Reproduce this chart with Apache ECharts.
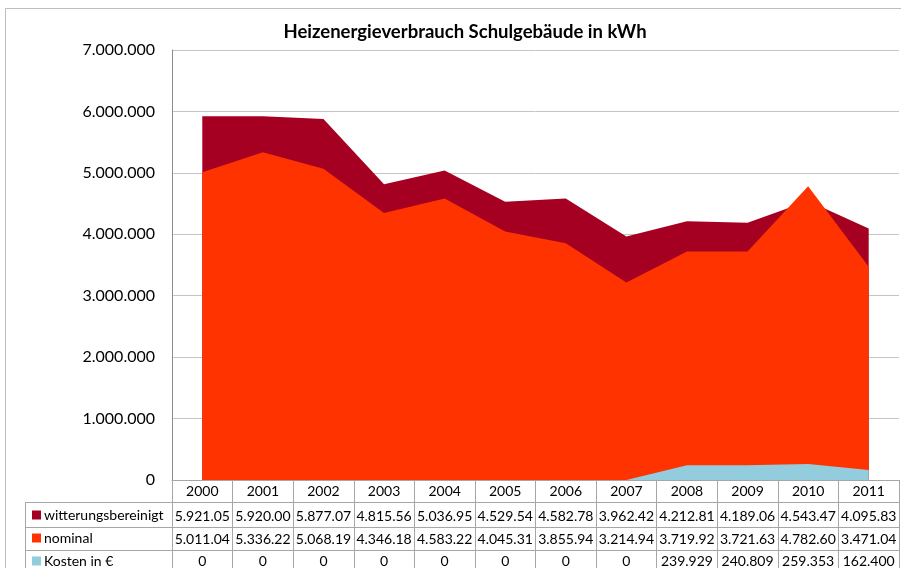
<!DOCTYPE html>
<html>
<head>
<meta charset="utf-8">
<script src="https://cdn.jsdelivr.net/npm/echarts@6/dist/echarts.min.js"></script>
<style>
  html, body { margin: 0; padding: 0; background: #fff; }
  #chart { width: 901px; height: 568px; }
</style>
</head>
<body>
<div id="chart"></div>
<script>
// Jahre (Kategorien)
var years = ['2000', '2001', '2002', '2003', '2004', '2005', '2006', '2007', '2008', '2009', '2010', '2011']
// witterungsbereinigt in kWh
var witterung = [5921050, 5920000, 5877070, 4815560, 5036950, 4529540, 4582780, 3962420, 4212810, 4189060, 4543470, 4095830]
// nominal in kWh
var nominal = [5011040, 5336220, 5068190, 4346180, 4583220, 4045310, 3855940, 3214940, 3719920, 3721630, 4782600, 3471040]
// Kosten in Euro
var kosten = [0, 0, 0, 0, 0, 0, 0, 0, 239929, 240809, 259353, 162400]

var names = ['witterungsbereinigt', 'nominal', 'Kosten in €']
var colors = ['#a50021', '#ff3300', '#93cddd']

var font = 'Lato'
var lineColor = '#a6a6a6'

// Tausenderpunkte
function dots (v) {
  return String(Math.round(v)).replace(/\B(?=(\d{3})+(?!\d))/g, '.')
}
// Excel schneidet zu lange Zellen ab
function cell (v) {
  var s = dots(v)
  return s.length > 8 ? s.slice(0, 8) : s
}

// eine Tabellenzeile als zusaetzliche x-Achse
function tableRow (offset, tickLen, margin, values) {
  return {
    type: 'category',
    data: years,
    position: 'bottom',
    offset: offset,
    boundaryGap: true,
    axisLine: { show: true, onZero: false, lineStyle: { color: lineColor, width: 1 } },
    axisTick: { show: true, alignWithLabel: false, interval: 0, length: tickLen, lineStyle: { color: lineColor, width: 1 } },
    splitLine: { show: false },
    axisLabel: {
      show: true,
      interval: 0,
      margin: margin,
      fontFamily: font,
      fontSize: 14,
      color: '#000',
      formatter: function (v, i) { return values ? cell(values[i]) : v }
    }
  }
}

// Legende je Tabellenzeile
function rowLegend (i, top) {
  return {
    left: 27,
    top: top,
    itemWidth: 9,
    itemHeight: 9,
    icon: 'rect',
    data: [names[i]],
    textStyle: { fontFamily: font, fontSize: 14, color: '#000', padding: [0, 0, 0, -2] }
  }
}

var chart = echarts.init(document.getElementById('chart'))

var series = [witterung, nominal, kosten].map(function (d, i) {
  return {
    name: names[i],
    type: 'line',
    data: d,
    symbol: 'none',
    lineStyle: { width: 0 },
    areaStyle: { color: colors[i], opacity: 1 },
    itemStyle: { color: colors[i] }
  }
})

chart.setOption({
  animation: false,
  title: {
    text: 'Heizenergieverbrauch Schulgebäude in kWh',
    left: 460,
    textAlign: 'center',
    top: 18,
    textStyle: { fontFamily: font, fontSize: 18.5, fontWeight: 'bold', color: '#000' }
  },
  legend: [rowLegend(0, 503), rowLegend(1, 526), rowLegend(2, 549)],
  grid: { left: 172, right: 2, top: 50, bottom: 88 },
  xAxis: [
    tableRow(0, 22, 4, null),
    tableRow(22, 25, 7, witterung),
    tableRow(47, 23, 5, nominal),
    tableRow(70, 23, 4, kosten)
  ],
  yAxis: {
    type: 'value',
    min: 0,
    max: 7000000,
    interval: 1000000,
    axisLine: { show: true, lineStyle: { color: '#8c8c8c' } },
    axisTick: { show: false },
    splitLine: { lineStyle: { color: '#c4c4c4' } },
    axisLabel: {
      margin: 17,
      fontFamily: font,
      fontSize: 16,
      color: '#000',
      formatter: function (v) { return dots(v) }
    }
  },
  graphic: [
    // Rahmen des Diagrammbereichs
    { type: 'rect', shape: { x: 5.5, y: 8.5, width: 1000, height: 1000 }, style: { fill: 'none', stroke: '#bdbdbd' }, silent: true, z: -10 },
    // Linien der Beschriftungsspalte
    { type: 'line', shape: { x1: 25.5, y1: 502, x2: 25.5, y2: 568 }, style: { stroke: lineColor } },
    { type: 'line', shape: { x1: 25, y1: 502.5, x2: 172, y2: 502.5 }, style: { stroke: lineColor } },
    { type: 'line', shape: { x1: 25, y1: 527.5, x2: 172, y2: 527.5 }, style: { stroke: lineColor } },
    { type: 'line', shape: { x1: 25, y1: 550.5, x2: 172, y2: 550.5 }, style: { stroke: lineColor } }
  ],
  series: series
})
</script>
</body>
</html>
